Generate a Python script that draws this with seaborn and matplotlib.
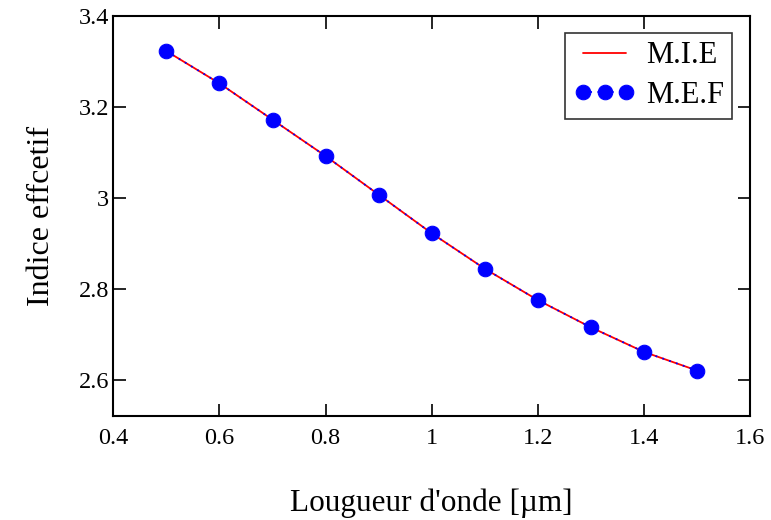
import matplotlib
matplotlib.use("Agg")
import matplotlib.pyplot as plt
import seaborn as sns
import pandas as pd

wavelength = [0.5, 0.6, 0.7, 0.8, 0.9, 1.0, 1.1, 1.2, 1.3, 1.4, 1.5]
n_mie = [3.323, 3.252, 3.172, 3.092, 3.007, 2.922, 2.844, 2.775, 2.715, 2.661, 2.620]
n_mef = [3.323, 3.252, 3.172, 3.092, 3.007, 2.922, 2.844, 2.775, 2.715, 2.661, 2.620]
xticks = [0.4, 0.6, 0.8, 1.0, 1.2, 1.4, 1.6]
xticklabels = ["0.4", "0.6", "0.8", "1", "1.2", "1.4", "1.6"]
yticks = [2.6, 2.8, 3.0, 3.2, 3.4]
yticklabels = ["2.6", "2.8", "3", "3.2", "3.4"]

sns.set_theme(style="ticks")
plt.rcParams['font.family'] = ['Liberation Serif', 'DejaVu Serif']

df = pd.DataFrame({"x": wavelength, "mie": n_mie, "mef": n_mef})

fig = plt.figure(figsize=(7.71, 5.2), dpi=100)
ax = fig.add_axes([0.147, 0.2, 0.826, 0.769])

sns.lineplot(data=df, x="x", y="mie", ax=ax, color="#ff0000", lw=1.3,
             label="M.I.E", zorder=3)
sns.lineplot(data=df, x="x", y="mef", ax=ax, color="#0000ff", lw=1.3,
             linestyle=(0, (1, 3)), marker="o", markersize=10.5,
             markeredgecolor="#0000ff", markerfacecolor="#0000ff",
             label="M.E.F", zorder=4)

ax.set_xlim(0.4, 1.6)
ax.set_ylim(2.52, 3.4)
ax.set_xticks(xticks)
ax.set_xticklabels(xticklabels)
ax.set_yticks(yticks)
ax.set_yticklabels(yticklabels)
ax.tick_params(direction="in", length=9, width=1.2, top=True, right=True,
               labelsize=17.5, colors="black", pad=9)
ax.tick_params(axis="y", pad=3)
for s in ax.spines.values():
    s.set_linewidth(1.5)
    s.set_color("black")

ax.set_xlabel("Lougueur d'onde [µm]", fontsize=22.5, labelpad=28, color="black")
ax.set_ylabel("Indice effcetif", fontsize=23, labelpad=16, color="black")

leg = ax.legend(loc="upper right", bbox_to_anchor=(0.972, 0.958), fontsize=22,
                frameon=True, fancybox=False, edgecolor="black",
                numpoints=3, handlelength=2.0, borderpad=0.28,
                labelspacing=0.35, handletextpad=0.35, borderaxespad=0)
leg.get_frame().set_linewidth(1.2)
for t in leg.get_texts():
    t.set_color("black")

fig.savefig("out.png", dpi=100)
